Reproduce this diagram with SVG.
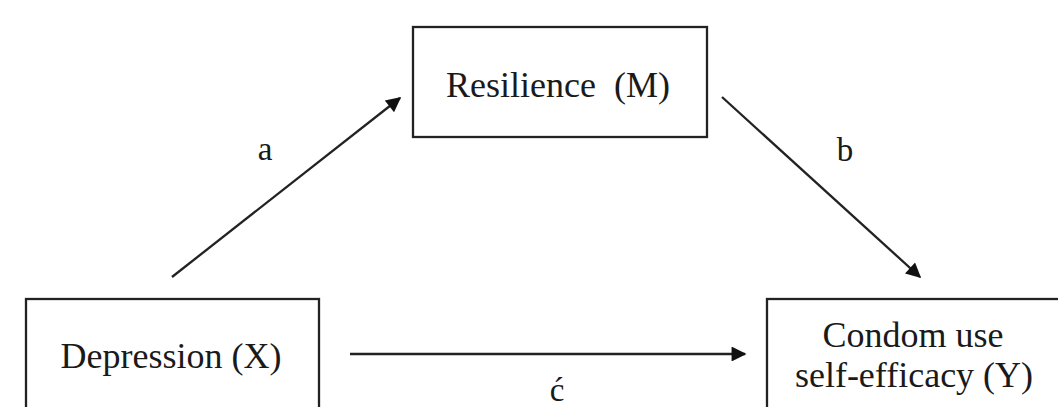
<svg xmlns="http://www.w3.org/2000/svg" width="1058" height="407" viewBox="0 0 1058 407">
<defs>
<style>
.box{fill:#fff;stroke:#222;stroke-width:2.3}
.t{font-family:"Liberation Serif","Times New Roman",serif;font-size:36px;fill:#1a1a1a;text-anchor:middle}
.lbl{font-family:"Liberation Serif","Times New Roman",serif;font-size:33px;fill:#1a1a1a;text-anchor:middle}
.ln{stroke:#222;stroke-width:2.3;fill:none;marker-end:url(#ah)}
</style>
<marker id="ah" viewBox="0 0 10 10" refX="9" refY="5" markerWidth="7.5" markerHeight="6.5" markerUnits="strokeWidth" orient="auto">
<path d="M0,0 L10,5 L0,10 z" fill="#111"/>
</marker>
</defs>
<rect width="1058" height="407" fill="#fff"/>
<g id="resilience">
<rect class="box" x="413" y="27" width="294" height="110"/>
<text class="t" x="558" y="97" xml:space="preserve">Resilience  (M)</text>
</g>
<g id="depression">
<rect class="box" x="26" y="299" width="293" height="120"/>
<text class="t" x="171" y="368">Depression (X)</text>
</g>
<g id="condom">
<rect class="box" x="767" y="299" width="300" height="120"/>
<text class="t" x="913" y="347">Condom use</text>
<text class="t" x="914" y="387">self-efficacy (Y)</text>
</g>
<g id="connectors">
<line class="ln" x1="172" y1="277" x2="400" y2="98"/>
<line class="ln" x1="722" y1="97" x2="920" y2="277"/>
<line class="ln" x1="350" y1="354" x2="745" y2="354"/>
<text class="lbl" x="265" y="160">a</text>
<text class="lbl" x="845" y="161">b</text>
<text class="lbl" x="557" y="401">ć</text>
</g>
</svg>
